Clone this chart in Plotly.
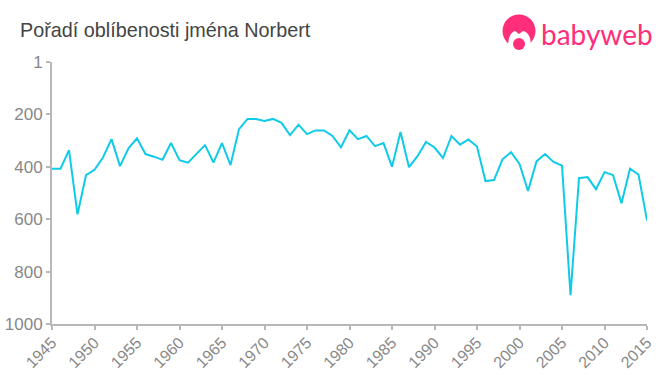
import plotly.graph_objects as go

years = list(range(1945, 2016))
ranks = [408, 408, 337, 582, 432, 412, 365, 295, 398, 330,
         292, 352, 362, 374, 310, 375, 385, 353, 318, 384,
         310, 394, 257, 218, 218, 226, 218, 233, 280, 240,
         276, 262, 262, 283, 326, 261, 295, 283, 322, 310,
         400, 268, 402, 360, 306, 327, 367, 283, 316, 296,
         323, 455, 451, 372, 345, 390, 493, 380, 352, 382,
         396, 890, 444, 440, 486, 421, 432, 540, 408, 430, 605]
y_ticks = [1, 200, 400, 600, 800, 1000]
x_ticks = list(range(1945, 2016, 5))
title = "Pořadí oblíbenosti jména Norbert"
brand = "babyweb"

W, H = 660, 375
L, R, T, B = 52, 647, 62, 324
PINK = "#ff2e7a"


def px(x):
    return (x - L) / (R - L)


def py(y):
    return (B - y) / (B - T)


def circle(cx, cy, r, color):
    return dict(type="circle", xref="paper", yref="paper",
                x0=px(cx - r), x1=px(cx + r), y0=py(cy + r), y1=py(cy - r),
                fillcolor=color, line=dict(width=0), layer="above")


face = dict(type="path", xref="paper", yref="paper", layer="above",
            fillcolor="white", line=dict(width=0),
            path=(f"M {px(507)} {py(50)} L {px(509)} {py(38)} Q {px(511)} {py(32)} {px(515)} {py(31)} "
                  f"L {px(519)} {py(34)} L {px(523)} {py(31)} "
                  f"Q {px(528)} {py(32)} {px(530)} {py(38)} "
                  f"L {px(532)} {py(50)} Z"))

fig = go.Figure(go.Scatter(x=years, y=ranks, mode="lines",
                           line=dict(color="#0fcbe8", width=2),
                           hoverinfo="skip", cliponaxis=False))
fig.update_layout(
    width=W, height=H, autosize=False,
    margin=dict(l=L, r=W - R, t=T, b=H - B, pad=0),
    paper_bgcolor="white", plot_bgcolor="white",
    showlegend=False,
    font=dict(family="Liberation Sans, Arial, sans-serif"),
    shapes=[circle(519, 31, 16.5, PINK), face, circle(519, 44, 6, PINK)],
    annotations=[
        dict(text=title, xref="paper", yref="paper", x=px(18), y=py(30),
             xanchor="left", yanchor="middle", showarrow=False,
             font=dict(size=19.8, color="#444444")),
        dict(text=brand, xref="paper", yref="paper", x=px(539), y=py(34),
             xanchor="left", yanchor="middle", showarrow=False,
             font=dict(family="Lato, sans-serif", size=28, color=PINK)),
    ],
)
fig.update_xaxes(range=[1945, 2015], tickmode="array", tickvals=x_ticks,
                 ticktext=[str(v) for v in x_ticks], tickangle=-45,
                 ticks="outside", ticklen=4, tickwidth=2, tickcolor="#b8b8b8",
                 showline=True, linecolor="#b8b8b8", linewidth=2,
                 showgrid=False, zeroline=False, automargin=False,
                 ticklabelstandoff=-3,
                 tickfont=dict(size=16, color="#888888"))
fig.update_yaxes(range=[1000, 1], tickmode="array", tickvals=y_ticks,
                 ticktext=[str(v) for v in y_ticks],
                 ticks="outside", ticklen=4, tickwidth=2, tickcolor="#b8b8b8",
                 showline=True, linecolor="#b8b8b8", linewidth=2,
                 showgrid=False, zeroline=False, automargin=False,
                 tickfont=dict(size=17, color="#888888"))
fig.write_html("out.html", config={"displayModeBar": False},
               post_script="document.body.style.margin='0';document.body.style.overflow='hidden';")
